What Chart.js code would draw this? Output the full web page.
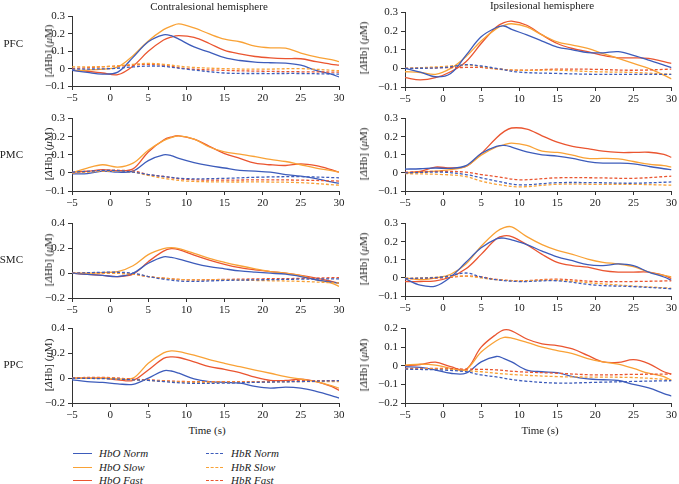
<!DOCTYPE html>
<html>
<head>
<meta charset="utf-8">
<script src="https://cdn.jsdelivr.net/npm/chart.js@4.4.1/dist/chart.umd.min.js"></script>
<style>
  html,body{margin:0;padding:0;background:#fff;}
  body{width:679px;height:484px;position:relative;overflow:hidden;font-family:"Liberation Serif","DejaVu Serif",serif;color:#222;}
  .txt{position:absolute;white-space:nowrap;font-size:11px;line-height:12px;}
  .ytitle{position:absolute;white-space:nowrap;font-size:11px;line-height:12px;transform:translate(-50%,-50%) rotate(-90deg);}
  .leg{position:absolute;white-space:nowrap;font-size:11px;line-height:12px;font-style:italic;}
  .legline{position:absolute;width:19px;height:0;}
</style>
</head>
<body>
<script>
// ---------- data ----------
const timeSolid = [-5,-3,-1,1,3,5,7,8,9,11,13,15,17,19,21,23,25,27,29,30];
const timeDash  = [-5,0,3,5,7,10,15,20,25,30];
const regions = ["PFC","PMC","SMC","PPC"];
const hemispheres = ["Contralesional hemisphere","Ipsilesional hemisphere"];
const seriesNames = ["HbO Norm","HbO Slow","HbO Fast","HbR Norm","HbR Slow","HbR Fast"];

// Contralesional PFC
const cPFC_HbO_Norm = [-0.01,-0.022,-0.032,-0.02,0.065,0.155,0.195,0.19,0.17,0.125,0.095,0.063,0.047,0.038,0.034,0.032,0.02,-0.01,-0.032,-0.048];
const cPFC_HbO_Slow = [-0.01,-0.008,-0.003,0.01,0.075,0.16,0.225,0.245,0.258,0.235,0.2,0.17,0.155,0.13,0.12,0.118,0.09,0.068,0.052,0.04];
const cPFC_HbO_Fast = [-0.01,-0.015,-0.025,-0.035,0.015,0.1,0.165,0.182,0.19,0.18,0.145,0.105,0.085,0.07,0.062,0.058,0.057,0.04,0.025,0.02];
const cPFC_HbR_Norm = [-0.003,0,0.01,0.015,0.013,-0.003,-0.025,-0.028,-0.028,-0.032];
const cPFC_HbR_Slow = [0.01,0.013,0.025,0.03,0.025,0.01,0,-0.003,0,-0.012];
const cPFC_HbR_Fast = [0,0.013,0.02,0.025,0.02,0,-0.01,-0.015,-0.018,-0.02];
// Ipsilesional PFC
const iPFC_HbO_Norm = [0,-0.02,-0.045,-0.027,0.07,0.17,0.22,0.228,0.21,0.18,0.147,0.115,0.1,0.085,0.084,0.09,0.07,0.045,0.018,0.004];
const iPFC_HbO_Slow = [-0.018,-0.022,-0.032,0,0.063,0.147,0.214,0.232,0.24,0.223,0.18,0.143,0.125,0.107,0.08,0.054,0.027,0,-0.036,-0.057];
const iPFC_HbO_Fast = [-0.05,-0.062,-0.05,-0.018,0.036,0.134,0.223,0.246,0.254,0.232,0.18,0.134,0.107,0.09,0.07,0.057,0.057,0.054,0.036,0.027];
const iPFC_HbR_Norm = [0,0.004,0.02,0.013,0,-0.02,-0.027,-0.032,-0.032,-0.032];
const iPFC_HbR_Slow = [0,0.01,0.018,0.01,-0.003,-0.01,-0.01,-0.018,-0.022,-0.032];
const iPFC_HbR_Fast = [0,0.004,0.005,0.005,-0.003,-0.01,-0.004,-0.005,-0.01,-0.004];
// Contralesional PMC
const cPMC_HbO_Norm = [-0.005,-0.004,0.01,0.004,0.01,0.068,0.1,0.096,0.08,0.057,0.04,0.027,0.014,0.01,0.004,-0.009,-0.018,-0.032,-0.05,-0.057];
const cPMC_HbO_Slow = [0,0.027,0.045,0.032,0.054,0.125,0.178,0.195,0.205,0.187,0.143,0.116,0.104,0.09,0.075,0.063,0.045,0.027,0.012,0.004];
const cPMC_HbO_Fast = [0.004,0.009,0.018,0.012,0.022,0.116,0.182,0.198,0.205,0.187,0.147,0.107,0.08,0.054,0.045,0.041,0.05,0.04,0.018,0.004];
const cPMC_HbR_Norm = [0.004,0.014,0.004,-0.009,-0.02,-0.032,-0.03,-0.023,-0.021,-0.027];
const cPMC_HbR_Slow = [0,0.01,0.004,-0.014,-0.03,-0.045,-0.05,-0.05,-0.054,-0.068];
const cPMC_HbR_Fast = [0,0.014,0.01,-0.009,-0.02,-0.036,-0.04,-0.038,-0.04,-0.045];
// Ipsilesional PMC
const iPMC_HbO_Norm = [0.021,0.023,0.027,0.025,0.04,0.107,0.146,0.152,0.143,0.116,0.1,0.093,0.08,0.062,0.054,0.054,0.05,0.036,0.023,0.018];
const iPMC_HbO_Slow = [0,0.004,0.01,0.018,0.036,0.098,0.143,0.155,0.164,0.152,0.12,0.113,0.098,0.08,0.08,0.077,0.063,0.048,0.04,0.032];
const iPMC_HbO_Fast = [0,0.009,0.032,0.027,0.036,0.107,0.193,0.228,0.248,0.242,0.205,0.17,0.147,0.134,0.12,0.113,0.113,0.114,0.102,0.086];
const iPMC_HbR_Norm = [0,0.004,-0.009,-0.027,-0.045,-0.066,-0.054,-0.054,-0.057,-0.05];
const iPMC_HbR_Slow = [-0.004,-0.009,-0.02,-0.045,-0.063,-0.077,-0.063,-0.063,-0.063,-0.068];
const iPMC_HbR_Fast = [0.004,0.009,0.004,-0.009,-0.02,-0.038,-0.027,-0.027,-0.03,-0.018];
// Contralesional SMC
const cSMC_HbO_Norm = [0,-0.01,-0.018,-0.027,0,0.08,0.132,0.127,0.114,0.08,0.053,0.035,0.018,0.008,0,-0.008,-0.027,-0.053,-0.072,-0.08];
const cSMC_HbO_Slow = [0,0,0.005,0.013,0.06,0.15,0.198,0.206,0.198,0.16,0.12,0.088,0.06,0.035,0.013,0,-0.02,-0.053,-0.08,-0.106];
const cSMC_HbO_Fast = [0,-0.01,-0.018,-0.027,-0.008,0.093,0.178,0.198,0.19,0.146,0.106,0.072,0.045,0.027,0.013,0,-0.018,-0.04,-0.066,-0.08];
const cSMC_HbR_Norm = [0,0.008,0,-0.027,-0.048,-0.066,-0.058,-0.053,-0.048,-0.045];
const cSMC_HbR_Slow = [0,0,-0.008,-0.027,-0.04,-0.053,-0.053,-0.06,-0.066,-0.08];
const cSMC_HbR_Fast = [0,0,-0.008,-0.027,-0.04,-0.053,-0.05,-0.045,-0.042,-0.035];
// Ipsilesional SMC
const iSMC_HbO_Norm = [-0.004,-0.04,-0.045,0.005,0.086,0.166,0.216,0.22,0.21,0.184,0.148,0.116,0.095,0.073,0.068,0.077,0.068,0.032,0.005,-0.013];
const iSMC_HbO_Slow = [0,-0.01,0,0.02,0.077,0.175,0.255,0.278,0.282,0.228,0.184,0.152,0.13,0.104,0.086,0.077,0.062,0.032,0.014,0.005];
const iSMC_HbO_Fast = [-0.02,-0.02,-0.016,0.005,0.05,0.13,0.216,0.232,0.228,0.184,0.13,0.086,0.068,0.059,0.04,0.032,0.032,0.032,0.014,-0.004];
const iSMC_HbR_Norm = [-0.004,0.005,0.027,0.005,-0.01,-0.02,-0.016,-0.04,-0.048,-0.06];
const iSMC_HbR_Slow = [-0.004,0.005,0.01,0,-0.01,-0.016,-0.013,-0.03,-0.045,-0.057];
const iSMC_HbR_Fast = [-0.004,0,0.01,0.005,-0.008,-0.016,-0.007,-0.02,-0.02,-0.016];
// Contralesional PPC
const cPPC_HbO_Norm = [-0.013,-0.027,-0.034,-0.045,-0.05,0,0.06,0.058,0.04,-0.005,-0.027,-0.034,-0.04,-0.066,-0.08,-0.072,-0.08,-0.106,-0.14,-0.16];
const cPPC_HbO_Slow = [0,0,0,-0.005,0,0.12,0.204,0.22,0.215,0.186,0.15,0.12,0.093,0.066,0.04,0.013,-0.008,-0.027,-0.06,-0.08];
const cPPC_HbO_Fast = [0,0,0,-0.013,-0.018,0.066,0.16,0.172,0.167,0.132,0.093,0.072,0.045,0.008,-0.018,-0.018,-0.008,-0.027,-0.066,-0.098];
const cPPC_HbR_Norm = [0,-0.005,-0.013,-0.018,-0.027,-0.04,-0.04,-0.032,-0.027,-0.02];
const cPPC_HbR_Slow = [0,0,-0.013,-0.018,-0.024,-0.032,-0.032,-0.032,-0.027,-0.027];
const cPPC_HbR_Fast = [0.005,0.005,-0.008,-0.013,-0.02,-0.027,-0.027,-0.027,-0.02,-0.02];
// Ipsilesional PPC
const iPPC_HbO_Norm = [-0.005,-0.009,-0.023,-0.04,-0.04,0.021,0.05,0.039,0.021,-0.023,-0.032,-0.037,-0.058,-0.07,-0.075,-0.079,-0.1,-0.119,-0.149,-0.163];
const iPPC_HbO_Slow = [0.004,0.009,0.004,-0.014,-0.02,0.074,0.135,0.153,0.149,0.126,0.1,0.082,0.065,0.039,0.021,0.009,-0.014,-0.04,-0.058,-0.079];
const iPPC_HbO_Fast = [0,0.007,0.02,-0.005,-0.02,0.1,0.17,0.193,0.188,0.144,0.118,0.109,0.091,0.056,0.021,0.018,0.033,0.012,-0.032,-0.044];
const iPPC_HbR_Norm = [-0.018,-0.023,-0.032,-0.049,-0.06,-0.079,-0.093,-0.089,-0.084,-0.08];
const iPPC_HbR_Slow = [-0.018,-0.018,-0.026,-0.032,-0.04,-0.049,-0.058,-0.061,-0.063,-0.075];
const iPPC_HbR_Fast = [-0.014,-0.014,-0.018,-0.019,-0.022,-0.032,-0.04,-0.049,-0.046,-0.044];

// y-axis ranges per panel
const yMinContra = [-0.1,-0.1,-0.2,-0.2];
const yMaxContra = [0.3,0.3,0.4,0.4];
const yStepContra = [0.1,0.1,0.2,0.2];
const yMinIpsi = [-0.1,-0.1,-0.1,-0.2];
const yMaxIpsi = [0.3,0.3,0.3,0.2];
const yStepIpsi = [0.1,0.1,0.1,0.1];

// ---------- styling / layout ----------
const COLORS = ["#3d5cbb","#f9a236","#ea5530"];
const FONT = "'Liberation Serif','DejaVu Serif',serif";
const AXIS = "#333";
const plotTopsL = [15,116.7,221.7,326.7];
const plotTopsR = [10.5,116.7,221.7,326.7];
const plotBottomsL = [86,191,297.3,402.3];
const plotBottomsR = [86,191,296,402.3];

const contraData = [
  [cPFC_HbO_Norm,cPFC_HbO_Slow,cPFC_HbO_Fast,cPFC_HbR_Norm,cPFC_HbR_Slow,cPFC_HbR_Fast],
  [cPMC_HbO_Norm,cPMC_HbO_Slow,cPMC_HbO_Fast,cPMC_HbR_Norm,cPMC_HbR_Slow,cPMC_HbR_Fast],
  [cSMC_HbO_Norm,cSMC_HbO_Slow,cSMC_HbO_Fast,cSMC_HbR_Norm,cSMC_HbR_Slow,cSMC_HbR_Fast],
  [cPPC_HbO_Norm,cPPC_HbO_Slow,cPPC_HbO_Fast,cPPC_HbR_Norm,cPPC_HbR_Slow,cPPC_HbR_Fast]
];
const ipsiData = [
  [iPFC_HbO_Norm,iPFC_HbO_Slow,iPFC_HbO_Fast,iPFC_HbR_Norm,iPFC_HbR_Slow,iPFC_HbR_Fast],
  [iPMC_HbO_Norm,iPMC_HbO_Slow,iPMC_HbO_Fast,iPMC_HbR_Norm,iPMC_HbR_Slow,iPMC_HbR_Fast],
  [iSMC_HbO_Norm,iSMC_HbO_Slow,iSMC_HbO_Fast,iSMC_HbR_Norm,iSMC_HbR_Slow,iSMC_HbR_Fast],
  [iPPC_HbO_Norm,iPPC_HbO_Slow,iPPC_HbO_Fast,iPPC_HbR_Norm,iPPC_HbR_Slow,iPPC_HbR_Fast]
];

function fmtTick(v){
  if (Math.abs(v) < 1e-9) return "0";
  return (v < 0 ? "\u2212" : "") + Math.abs(v).toFixed(1);
}
function fmtX(v){
  return (v < 0 ? "\u2212" : "") + Math.abs(v);
}

function makePanel(isLeft, row){
  const series = isLeft ? contraData[row] : ipsiData[row];
  const yMin = isLeft ? yMinContra[row] : yMinIpsi[row];
  const yMax = isLeft ? yMaxContra[row] : yMaxIpsi[row];
  const yStep = isLeft ? yStepContra[row] : yStepIpsi[row];
  const pTop = isLeft ? plotTopsL[row] : plotTopsR[row];
  const pBot = isLeft ? plotBottomsL[row] : plotBottomsR[row];
  const padTop = 8, xH = 20;
  const left = isLeft ? 0 : 340;
  const width = isLeft ? 347 : 339;
  const yW = isLeft ? 72 : 65;
  const padR = isLeft ? 8 : 6;
  const top = pTop - padTop;
  const height = Math.round(padTop + (pBot - pTop) + xH);

  const c = document.createElement('canvas');
  c.width = width; c.height = height;
  c.style.position = 'absolute';
  c.style.left = left + 'px';
  c.style.top = top + 'px';
  c.style.width = width + 'px';
  c.style.height = height + 'px';
  document.body.appendChild(c);

  const datasets = series.map((vals, k) => {
    const t = k < 3 ? timeSolid : timeDash;
    return {
      label: seriesNames[k],
      data: vals.map((y, i) => ({x: t[i], y: y})),
      borderColor: COLORS[k % 3],
      backgroundColor: COLORS[k % 3],
      borderWidth: 1.3,
      borderDash: k < 3 ? [] : [3, 2],
      pointRadius: 0,
      fill: false,
      tension: 0.35
    };
  });
  const ordered = datasets.slice(3).concat(datasets.slice(0,3));

  new Chart(c, {
    type: 'line',
    data: { datasets: ordered },
    options: {
      responsive: false,
      animation: false,
      maintainAspectRatio: false,
      layout: { padding: { top: padTop, right: padR, left: 0, bottom: 0 } },
      plugins: { legend: { display: false }, tooltip: { enabled: false } },
      scales: {
        x: {
          type: 'linear', min: -5, max: 30,
          ticks: { stepSize: 5, color: '#222', font: { family: FONT, size: 11 }, padding: 2, maxRotation: 0, callback: fmtX },
          grid: { drawOnChartArea: false, drawTicks: true, tickLength: 4, color: AXIS, lineWidth: 1 },
          border: { display: true, color: AXIS, width: 1 },
          afterFit(s){ s.height = xH; }
        },
        y: {
          type: 'linear', min: yMin, max: yMax,
          ticks: { stepSize: yStep, color: '#222', font: { family: FONT, size: 11 }, padding: 3, callback: fmtTick },
          grid: { drawOnChartArea: false, drawTicks: true, tickLength: 4, color: AXIS, lineWidth: 1 },
          border: { display: true, color: AXIS, width: 1 },
          afterFit(s){ s.width = yW; }
        }
      }
    }
  });

  const yt = document.createElement('div');
  yt.className = 'ytitle';
  yt.innerHTML = '[<i>\u0394</i>Hb] (<i>\u03bc</i>M)';
  yt.style.left = (isLeft ? 48 : 363) + 'px';
  yt.style.top = ((pTop + pBot) / 2) + 'px';
  document.body.appendChild(yt);
}

for (let r = 0; r < 4; r++) { makePanel(true, r); makePanel(false, r); }

function addText(txt, x, y, align, cls){
  const d = document.createElement('div');
  d.className = cls || 'txt';
  d.textContent = txt;
  d.style.top = (y - 6) + 'px';
  if (align === 'center') { d.style.left = x + 'px'; d.style.transform = 'translateX(-50%)'; }
  else if (align === 'right') { d.style.right = (679 - x) + 'px'; }
  else { d.style.left = x + 'px'; }
  document.body.appendChild(d);
}
addText(hemispheres[0], 209, 6, 'center');
addText(hemispheres[1], 542, 5, 'center');
const regionY = [43, 154, 259, 364];
regions.forEach((r, i) => addText(r, 23, regionY[i], 'right'));
addText("Time (s)", 207, 430, 'center');
addText("Time (s)", 540, 430, 'center');
const legY = [453, 467, 480];
for (let k = 0; k < 6; k++) {
  const col = k < 3 ? 0 : 1;
  const rowI = k % 3;
  const lx = col === 0 ? 73 : 206;
  const tx = col === 0 ? 99 : 231;
  const ln = document.createElement('div');
  ln.className = 'legline';
  ln.style.left = lx + 'px';
  ln.style.width = (col === 0 ? 19 : 17) + 'px';
  ln.style.top = (legY[rowI] - 0.5) + 'px';
  ln.style.borderTop = '1.3px ' + (col === 0 ? 'solid ' : 'dashed ') + COLORS[rowI];
  document.body.appendChild(ln);
  addText(seriesNames[k], tx, legY[rowI], 'left', 'leg');
}
</script>
</body>
</html>
